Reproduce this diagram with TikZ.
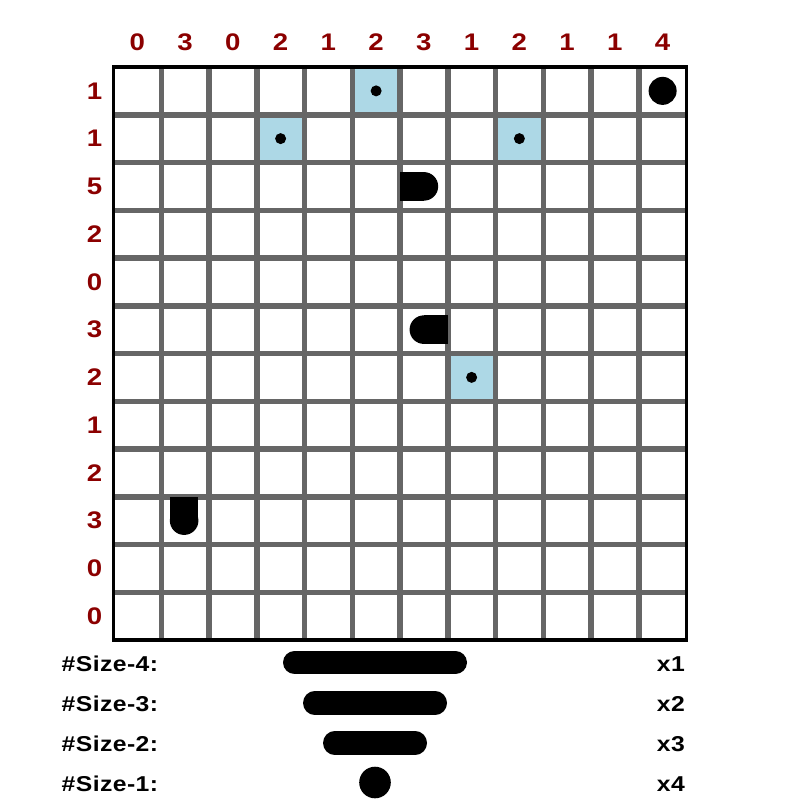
\documentclass[tikz,border=0pt]{standalone}
\usepackage{fontspec}
\setmainfont{Liberation Sans}
\newfontfamily\cluefont[FakeStretch=1.15]{Liberation Sans}
\newfontfamily\legendfont[FakeStretch=1.15,LetterSpace=2]{Liberation Sans}
\definecolor{cluered}{RGB}{139,0,0}
\definecolor{gridgrey}{RGB}{102,102,102}
\definecolor{hintblue}{RGB}{173,216,230}
\tikzset{
  clue/.style={font=\cluefont\fontsize{24}{28}\selectfont\bfseries, inner sep=0pt, text=cluered},
  legend/.style={font=\legendfont\fontsize{21.5}{25}\selectfont\bfseries, inner sep=0pt, text=black},
  gridline/.style={draw=gridgrey, line width=5.5},
  border/.style={draw=black, line width=3.5},
  hint/.style={fill=hintblue},
  bar/.style={draw=black, line width=23.5, line cap=round}
}
\begin{document}
\begin{tikzpicture}[x=1pt,y=-1pt]
\useasboundingbox (0,0) rectangle (800,800);
\fill[white] (0,0) rectangle (800,800);
\def\L{113.5}\def\T{67}\def\C{47.75}
% hint cells
\foreach \c/\r in {6/1,4/2,9/2,8/7}{
  \path[hint] ({\L+(\c-1)*\C},{\T+(\r-1)*\C}) rectangle ++(\C,\C);
}
% grid
\foreach \i in {1,...,11}{
  \path[gridline] ({\L+\i*\C},\T) -- ++(0,{12*\C});
  \path[gridline] (\L,{\T+\i*\C}) -- ++({12*\C},0);
}
\path[border] (\L,\T) rectangle ++({12*\C},{12*\C});
% hint dots
\foreach \c/\r in {6/1,4/2,9/2,8/7}{
  \fill ({\L+(\c-0.5)*\C},{\T+(\r-0.5)*\C}) circle (5.5);
}
% ship pieces
\fill ({\L+11.5*\C},{\T+0.5*\C}) circle (14);
% row 3 col 7: flat left, round right
\fill ({\L+6.5*\C},{\T+2.5*\C}) circle (14.3);
\fill ({\L+6*\C},{\T+2.5*\C-14.3}) rectangle ({\L+6.5*\C},{\T+2.5*\C+14.3});
% row 6 col 7: round left, flat right
\fill ({\L+6.5*\C},{\T+5.5*\C}) circle (14.3);
\fill ({\L+6.5*\C},{\T+5.5*\C-14.3}) rectangle ({\L+7*\C},{\T+5.5*\C+14.3});
% row 10 col 2: flat top, round bottom
\fill ({\L+1.5*\C-1},{\T+9.5*\C}) circle (14.3);
\fill ({\L+1.5*\C-1-14.3},{\T+9*\C}) rectangle ({\L+1.5*\C-1+14.3},{\T+9.5*\C});
% column clues
\foreach \v [count=\i] in {0,3,0,2,1,2,3,1,2,1,1,4}{
  \node[clue] (col\i) at ({\L+(\i-0.5)*\C},42.5) {\v};
}
% row clues
\foreach \v [count=\i] in {1,1,5,2,0,3,2,1,2,3,0,0}{
  \node[clue] (row\i) at (94.5,{\T+(\i-0.5)*\C}) {\v};
}
% legend
\node[legend, anchor=west] (l4) at (61.5,664) {\#Size-4:};
\node[legend, anchor=west] (l3) at (61.5,704) {\#Size-3:};
\node[legend, anchor=west] (l2) at (61.5,744) {\#Size-2:};
\node[legend, anchor=west] (l1) at (61.5,784) {\#Size-1:};
\node[legend, anchor=east] (n4) at (685,664) {x1};
\node[legend, anchor=east] (n3) at (685,704) {x2};
\node[legend, anchor=east] (n2) at (685,744) {x3};
\node[legend, anchor=east] (n1) at (685,784) {x4};
\path[bar] (294.75,662.5) -- (455.25,662.5);
\path[bar] (314.75,703) -- (435.25,703);
\path[bar] (334.75,743) -- (415.25,743);
\fill (375,782.5) circle (15.8);
\end{tikzpicture}
\end{document}
